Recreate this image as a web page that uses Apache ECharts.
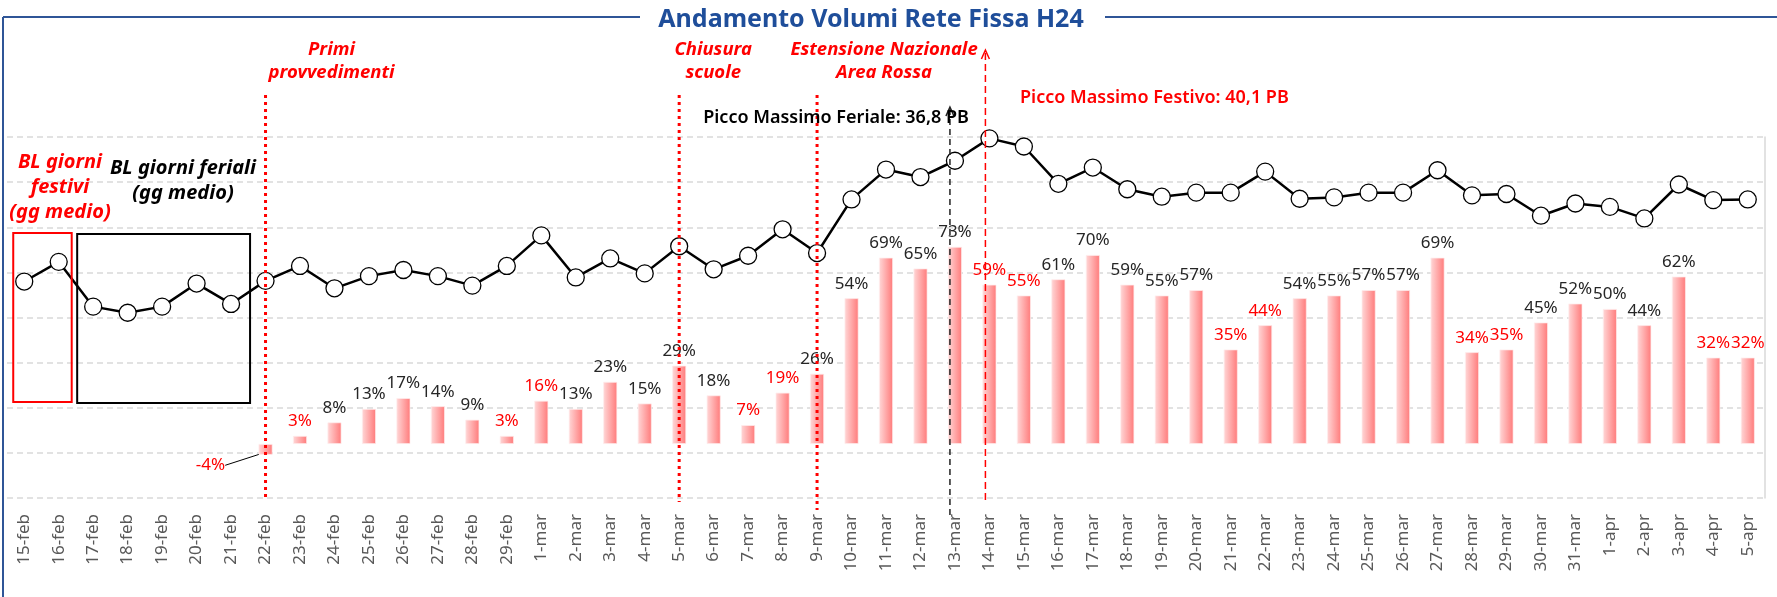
<!DOCTYPE html>
<html>
<head>
<meta charset="utf-8">
<script src="https://cdn.jsdelivr.net/npm/echarts@6/dist/echarts.min.js"></script>
<style>
  html, body { margin: 0; padding: 0; background: #fff; }
  #main { width: 1777px; height: 597px; }
</style>
</head>
<body>
<div id="main"></div>
<script>
// giorni (asse x)
var giorni = ['15-feb','16-feb','17-feb','18-feb','19-feb','20-feb','21-feb','22-feb','23-feb','24-feb',
  '25-feb','26-feb','27-feb','28-feb','29-feb','1-mar','2-mar','3-mar','4-mar','5-mar','6-mar','7-mar',
  '8-mar','9-mar','10-mar','11-mar','12-mar','13-mar','14-mar','15-mar','16-mar','17-mar','18-mar',
  '19-mar','20-mar','21-mar','22-mar','23-mar','24-mar','25-mar','26-mar','27-mar','28-mar','29-mar',
  '30-mar','31-mar','1-apr','2-apr','3-apr','4-apr','5-apr'];

// volume giornaliero (PB) - linea
var volumiPB = [19.0, 21.9, 15.3, 14.4, 15.3, 18.7, 15.7, 19.1, 21.3, 18.0,
  19.8, 20.7, 19.8, 18.4, 21.3, 25.8, 19.6, 22.4, 20.2, 24.2, 20.8, 22.8,
  26.7, 23.2, 31.1, 35.5, 34.4, 36.8, 40.1, 38.9, 33.4, 35.8, 32.6,
  31.5, 32.1, 32.1, 35.2, 31.2, 31.4, 32.1, 32.1, 35.4, 31.7, 31.9,
  28.7, 30.5, 30.0, 28.3, 33.3, 31.0, 31.1];

// variazione % rispetto alla baseline - barre
var deltaPct = [null, null, null, null, null, null, null, -4, 3, 8,
  13, 17, 14, 9, 3, 16, 13, 23, 15, 29, 18, 7,
  19, 26, 54, 69, 65, 73, 59, 55, 61, 70, 59,
  55, 57, 35, 44, 54, 55, 57, 57, 69, 34, 35,
  45, 52, 50, 44, 62, 32, 32];

// giorni festivi (etichette rosse)
var festivi = ['22-feb','23-feb','29-feb','1-mar','7-mar','8-mar','14-mar','15-mar',
  '21-mar','22-mar','28-mar','29-mar','4-apr','5-apr'];

var ROSSO = '#ff0000';
var FONT = '"Noto Sans", "DejaVu Sans", sans-serif';

var chartDom = document.getElementById('main');
var myChart = echarts.init(chartDom);

var barData = deltaPct.map(function (v, i) {
  if (v === null) return null;
  var item = {
    value: v,
    label: { color: festivi.indexOf(giorni[i]) >= 0 ? ROSSO : '#262626' }
  };
  if (v < 0) {
    item.label.position = 'bottom';
    item.labelLine = { show: true, lineStyle: { color: '#000', width: 1 } };
  }
  return item;
});

var option = {
  animation: false,
  backgroundColor: '#fff',
  grid: { left: 7, right: 12, top: 137, bottom: 99 },
  xAxis: {
    type: 'category',
    data: giorni,
    axisLine: { show: false },
    axisTick: { show: false },
    axisLabel: { rotate: 90, color: '#595959', fontSize: 17, fontFamily: FONT, margin: 16, interval: 0 }
  },
  yAxis: [
    { // solo griglia
      type: 'value', min: 0, max: 8, interval: 1,
      axisLabel: { show: false }, axisLine: { show: false }, axisTick: { show: false },
      splitLine: { show: true, lineStyle: { color: '#d9d9d9', type: [6, 4], width: 1.5 } }
    },
    { type: 'value', min: -20, max: 113.7, show: false, splitLine: { show: false } },
    { type: 'value', min: -12.9, max: 40.3, position: 'right',
      axisLabel: { show: false }, axisTick: { show: false }, splitLine: { show: false },
      axisLine: { show: true, lineStyle: { color: '#d9d9d9', width: 1.5 } } }
  ],
  series: [
    {
      name: 'Delta %',
      type: 'bar',
      yAxisIndex: 1,
      barWidth: 14,
      data: barData,
      itemStyle: {
        // sfumatura orizzontale: chiaro a sinistra, rosso a destra
        color: new echarts.graphic.LinearGradient(0, 0, 1, 0, [
          { offset: 0, color: '#ffd8d8' },
          { offset: 1, color: '#ff7a7a' }
        ]),
        borderColor: 'rgba(255,235,235,0.9)',
        borderWidth: 0.8
      },
      label: {
        show: true, position: 'top', distance: 6,
        fontSize: 17, fontFamily: FONT,
        formatter: function (p) { return p.value + '%'; }
      },
      labelLayout: function (p) {
        if (deltaPct[p.dataIndex] < 0) return { dx: -55, dy: -4 };
        return {};
      },
      z: 2
    },
    {
      name: 'Volume PB',
      type: 'line',
      yAxisIndex: 2,
      data: volumiPB,
      symbol: 'circle',
      symbolSize: 17,
      lineStyle: { color: '#000', width: 2.5 },
      itemStyle: { color: '#fff', borderColor: '#000', borderWidth: 1.3 },
      z: 5
    }
  ]
};

myChart.setOption(option);

function px(d) { return myChart.convertToPixel({ xAxisIndex: 0 }, d); }

var blu = '#2f5597';
var gr = [];
// cornice e titolo
gr.push({ type: 'line', shape: { x1: 3, y1: 17, x2: 640, y2: 17 }, style: { stroke: blu, lineWidth: 2 } });
gr.push({ type: 'line', shape: { x1: 1105, y1: 17, x2: 1777, y2: 17 }, style: { stroke: blu, lineWidth: 2 } });
gr.push({ type: 'line', shape: { x1: 3, y1: 17, x2: 3, y2: 597 }, style: { stroke: blu, lineWidth: 2 } });
gr.push({ type: 'text', x: 871, y: 20, style: { text: 'Andamento Volumi Rete Fissa H24', fill: '#1f4e9a',
  font: 'bold 25px ' + FONT, textAlign: 'center', textVerticalAlign: 'middle' } });

// eventi (linee rosse puntinate)
var eventi = [
  { giorno: '22-feb', testo: 'Primi\nprovvedimenti', dx: 66, y2: 500 },
  { giorno: '5-mar', testo: 'Chiusura\nscuole', dx: 34, y2: 502 },
  { giorno: '9-mar', testo: 'Estensione Nazionale\nArea Rossa', dx: 67, y2: 510 }
];
eventi.forEach(function (e) {
  var x = px(e.giorno);
  gr.push({ type: 'line', shape: { x1: x, y1: 95, x2: x, y2: e.y2 },
    style: { stroke: ROSSO, lineWidth: 3, lineDash: [3, 4] }, z: 10 });
  gr.push({ type: 'text', x: x + e.dx, y: 61, style: { text: e.testo, fill: ROSSO,
    font: 'italic bold 18.5px ' + FONT, textAlign: 'center', textVerticalAlign: 'middle', lineHeight: 23 }, z: 10 });
});

// picco feriale (freccia nera tratteggiata)
var xf = px('13-mar') - 5;
gr.push({ type: 'line', shape: { x1: xf, y1: 515, x2: xf, y2: 108 },
  style: { stroke: '#222', lineWidth: 1.5, lineDash: [6, 4] }, z: 10 });
gr.push({ type: 'polyline', shape: { points: [[xf - 4, 116], [xf, 107], [xf + 4, 116]] },
  style: { stroke: '#222', lineWidth: 1.5, fill: null }, z: 10 });
gr.push({ type: 'text', x: 836, y: 118, style: { text: 'Picco Massimo Feriale: 36,8 PB', fill: '#000',
  font: '600 18px ' + FONT, textAlign: 'center', textVerticalAlign: 'middle' }, z: 11 });

// picco festivo (freccia rossa tratteggiata)
var xs = px('14-mar') - 4;
gr.push({ type: 'line', shape: { x1: xs, y1: 500, x2: xs, y2: 51 },
  style: { stroke: ROSSO, lineWidth: 1.5, lineDash: [7, 4] }, z: 10 });
gr.push({ type: 'polyline', shape: { points: [[xs - 4, 59], [xs, 50], [xs + 4, 59]] },
  style: { stroke: ROSSO, lineWidth: 1.5, fill: null }, z: 10 });
gr.push({ type: 'text', x: 1020, y: 98, style: { text: 'Picco Massimo Festivo: 40,1 PB', fill: ROSSO,
  font: '600 18px ' + FONT, textAlign: 'left', textVerticalAlign: 'middle' }, z: 11 });

// baseline
var c15 = px('15-feb'), c16 = px('16-feb'), c17 = px('17-feb'), c21 = px('21-feb');
gr.push({ type: 'rect', shape: { x: c15 - 11, y: 233, width: (c16 + 13) - (c15 - 11), height: 169 },
  style: { stroke: ROSSO, lineWidth: 2, fill: null }, z: 10 });
gr.push({ type: 'rect', shape: { x: c17 - 16, y: 234, width: (c21 + 19) - (c17 - 16), height: 169 },
  style: { stroke: '#000', lineWidth: 2, fill: null }, z: 10 });
gr.push({ type: 'text', x: 60, y: 187, style: { text: 'BL giorni\nfestivi\n(gg medio)', fill: ROSSO,
  font: 'italic bold 20px ' + FONT, textAlign: 'center', textVerticalAlign: 'middle', lineHeight: 25 }, z: 10 });
gr.push({ type: 'text', x: 183, y: 181, style: { text: 'BL giorni feriali\n(gg medio)', fill: '#000',
  font: 'italic bold 20px ' + FONT, textAlign: 'center', textVerticalAlign: 'middle', lineHeight: 25 }, z: 10 });

myChart.setOption({ graphic: gr });
</script>
</body>
</html>
